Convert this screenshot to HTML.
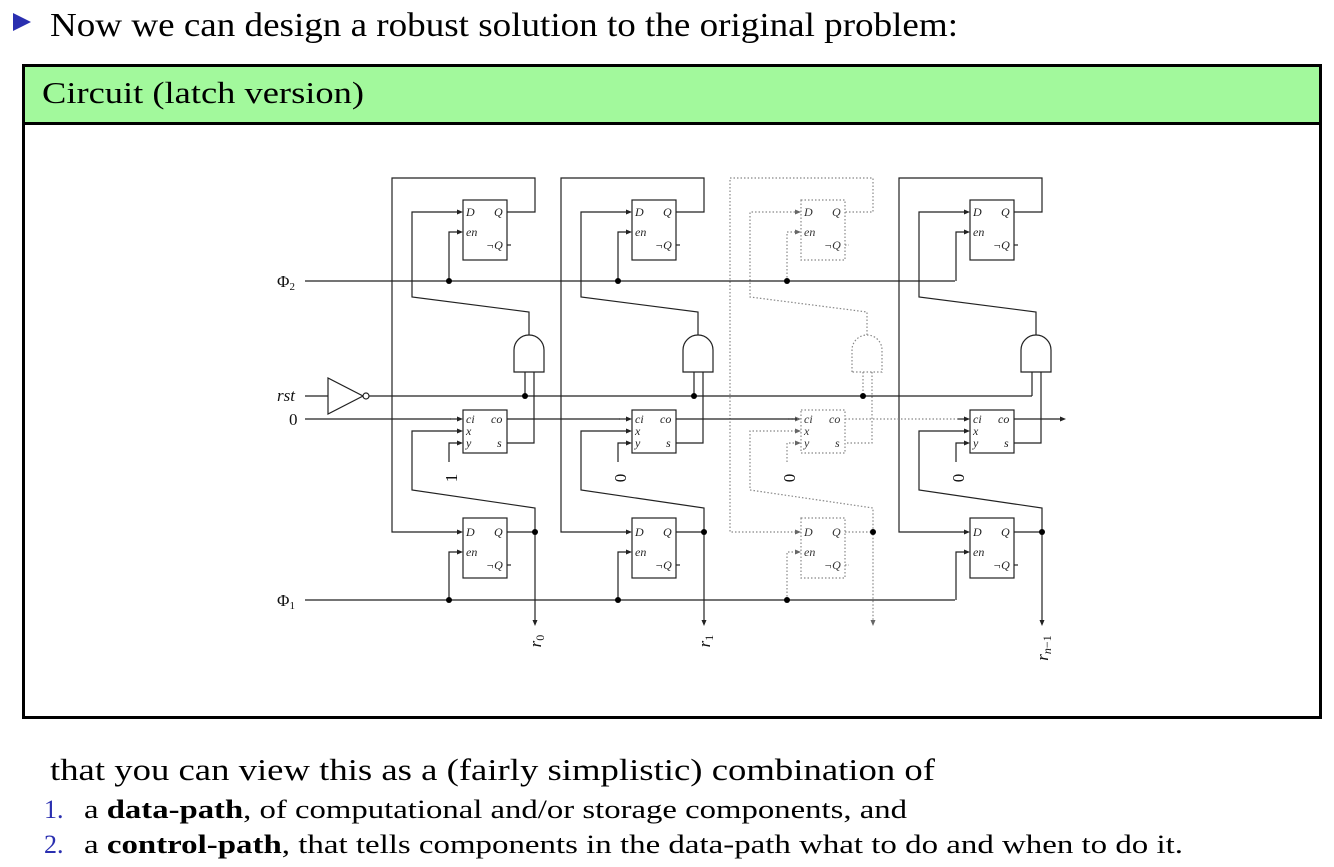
<!DOCTYPE html>
<html><head><meta charset="utf-8"><style>
html,body{margin:0;padding:0;background:#fff;width:1334px;height:867px;overflow:hidden}
svg{display:block}
.t{font-family:"Liberation Serif","DejaVu Serif",serif}
</style></head><body>
<svg width="1334" height="867" viewBox="0 0 1334 867" xmlns="http://www.w3.org/2000/svg">
<defs>
<g id="col">
  <polyline fill="none" points="458,532 392,532 392,178 535,178 535,212 507,212"/>
  <rect x="463" y="200" width="44" height="60" fill="none"/>
  <polyline fill="none" points="529,335 529,312 412,297 412,212 458,212"/>
  <polygon stroke="none" points="457,209.5 463,212 457,214.5"/>
  <polyline fill="none" points="449,281 449,232 458,232"/>
  <polygon stroke="none" points="457,229.5 463,232 457,234.5"/>
  <line x1="507" y1="245" x2="511" y2="245"/>
  <path fill="none" d="M514,372 L514,350 A15,15 0 0 1 544,350 L544,372 Z"/>
  <line x1="525" y1="372" x2="525" y2="396"/>
  <polyline fill="none" points="534,372 534,443 507,443"/>
  <rect x="463" y="410" width="44" height="43" fill="none"/>
  <line x1="450" y1="419" x2="458" y2="419"/>
  <polygon stroke="none" points="457,416.5 463,419 457,421.5"/>
  <polyline fill="none" points="458,431 412,431 412,490 535,508 535,621"/>
  <polygon stroke="none" points="457,428.5 463,431 457,433.5"/>
  <polygon stroke="none" points="532.5,620 535,626 537.5,620"/>
  <polyline fill="none" points="449,462 449,443 458,443"/>
  <polygon stroke="none" points="457,440.5 463,443 457,445.5"/>
  <rect x="463" y="518" width="44" height="60" fill="none"/>
  <polygon stroke="none" points="457,529.5 463,532 457,534.5"/>
  <line x1="507" y1="532" x2="535" y2="532"/>
  <polyline fill="none" points="449,600 449,552 458,552"/>
  <polygon stroke="none" points="457,549.5 463,552 457,554.5"/>
  <line x1="507" y1="565" x2="511" y2="565"/>
</g>
<g id="lbl" class="t" font-size="12" font-style="italic">
    <text x="466" y="216">D</text><text x="494" y="216">Q</text>
    <text x="466" y="236">en</text><text x="486" y="249">¬Q</text>
    <text x="466" y="423">ci</text><text x="491" y="423">co</text>
    <text x="466" y="435">x</text><text x="466" y="447">y</text><text x="497" y="447">s</text>
    <text x="466" y="536">D</text><text x="494" y="536">Q</text>
    <text x="466" y="556">en</text><text x="486" y="569">¬Q</text>
</g>
</defs>

<polygon points="13,13 31,22 13,31" fill="#2a2fb0"/>
<text class="t" x="50" y="36" font-size="34" textLength="908" lengthAdjust="spacingAndGlyphs">Now we can design a robust solution to the original problem:</text>

<rect x="23.5" y="65.5" width="1297" height="652" fill="#fff" stroke="#000" stroke-width="3"/>
<rect x="25" y="67" width="1294" height="56" fill="#a2f99c"/>
<line x1="23.5" y1="123.5" x2="1320.5" y2="123.5" stroke="#000" stroke-width="3"/>
<text class="t" x="42" y="103" font-size="31" textLength="322" lengthAdjust="spacingAndGlyphs">Circuit (latch version)</text>

<g stroke-width="1.2">
<use href="#col" stroke="#222" fill="#222"/>
<use href="#col" transform="translate(169,0)" stroke="#222" fill="#222"/>
<use href="#col" transform="translate(338,0)" stroke="#888" fill="#666" stroke-dasharray="1.5 2"/>
<use href="#col" transform="translate(507,0)" stroke="#222" fill="#222"/>
<use href="#lbl" fill="#222"/>
<use href="#lbl" transform="translate(169,0)" fill="#222"/>
<use href="#lbl" transform="translate(338,0)" fill="#333"/>
<use href="#lbl" transform="translate(507,0)" fill="#222"/>

<g stroke="#222" fill="none">
  <line x1="305" y1="281" x2="955" y2="281"/>
  <line x1="305" y1="600" x2="955" y2="600"/>
  <line x1="305" y1="396" x2="328" y2="396"/>
  <polygon points="328,378 328,414 363,396"/>
  <circle cx="366" cy="396" r="3" fill="#fff"/>
  <line x1="369" y1="396" x2="1032" y2="396"/>
  <line x1="305" y1="419" x2="451" y2="419"/>
  <line x1="507" y1="419" x2="620" y2="419"/>
  <line x1="676" y1="419" x2="797" y2="419"/>
  <line x1="1014" y1="419" x2="1060" y2="419"/>
</g>
<line x1="845" y1="419" x2="958" y2="419" stroke="#888" stroke-dasharray="1.5 2"/>
<polygon points="1060,416.5 1066,419 1060,421.5" fill="#222"/>
<g fill="#000">
  <circle cx="449" cy="281" r="3"/><circle cx="618" cy="281" r="3"/><circle cx="787" cy="281" r="3"/>
  <circle cx="525" cy="396" r="3"/><circle cx="694" cy="396" r="3"/><circle cx="863" cy="396" r="3"/>
  <circle cx="535" cy="532" r="3"/><circle cx="704" cy="532" r="3"/><circle cx="873" cy="532" r="3"/><circle cx="1042" cy="532" r="3"/>
  <circle cx="449" cy="600" r="3"/><circle cx="618" cy="600" r="3"/><circle cx="787" cy="600" r="3"/>
</g>
</g>

<g class="t" font-size="17" fill="#111">
  <text x="277" y="287">Φ<tspan font-size="11" dy="3">2</tspan></text>
  <text x="277" y="606">Φ<tspan font-size="11" dy="3">1</tspan></text>
  <text x="277" y="401" font-style="italic">rst</text>
  <text x="289" y="425">0</text>
  <text transform="translate(457,478) rotate(-90)" text-anchor="middle">1</text>
  <text transform="translate(626,478) rotate(-90)" text-anchor="middle">0</text>
  <text transform="translate(795,478) rotate(-90)" text-anchor="middle">0</text>
  <text transform="translate(964,478) rotate(-90)" text-anchor="middle">0</text>
  <text transform="translate(541,641) rotate(-90)" text-anchor="middle" font-style="italic">r<tspan font-size="12" dy="3" font-style="normal">0</tspan></text>
  <text transform="translate(710,641) rotate(-90)" text-anchor="middle" font-style="italic">r<tspan font-size="12" dy="3" font-style="normal">1</tspan></text>
  <text transform="translate(1048,648) rotate(-90)" text-anchor="middle" font-style="italic">r<tspan font-size="12" dy="3">n</tspan><tspan font-size="12" font-style="normal">−1</tspan></text>
</g>

<text class="t" x="50" y="780" font-size="31" textLength="885" lengthAdjust="spacingAndGlyphs">that you can view this as a (fairly simplistic) combination of</text>
<g class="t" font-size="26">
  <text x="44" y="818"><tspan fill="#2a2fb0">1.</tspan></text>
  <text x="84" y="818" textLength="823" lengthAdjust="spacingAndGlyphs">a <tspan font-weight="bold">data-path</tspan>, of computational and/or storage components, and</text>
  <text x="44" y="853"><tspan fill="#2a2fb0">2.</tspan></text>
  <text x="84" y="853" textLength="1099" lengthAdjust="spacingAndGlyphs">a <tspan font-weight="bold">control-path</tspan>, that tells components in the data-path what to do and when to do it.</text>
</g>
</svg>
</body></html>
